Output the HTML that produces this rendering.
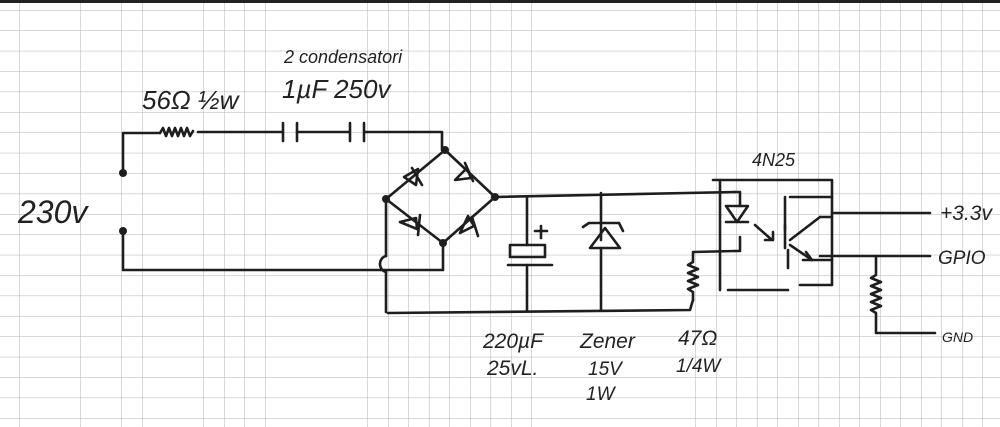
<!DOCTYPE html>
<html><head><meta charset="utf-8"><style>
html,body{margin:0;padding:0;background:#fff}
svg{display:block}
text{font-family:"Liberation Sans",sans-serif;font-style:italic;fill:#222}
</style></head><body>
<svg width="1000" height="427" viewBox="0 0 1000 427" xmlns="http://www.w3.org/2000/svg">
<defs>
<pattern id="g" x="19" y="10" width="20.5" height="20.4" patternUnits="userSpaceOnUse">
<path d="M0 0V20.4M0 0H20.5" stroke="#b0b0b0" stroke-width="1" fill="none"/>
</pattern>
</defs>
<rect width="1000" height="427" fill="#fff"/>
<rect width="1000" height="427" fill="url(#g)"/>
<rect x="0" y="0" width="1000" height="3" fill="#222"/>
<g stroke="#1e1e1e" stroke-width="2.6" fill="none" stroke-linecap="round" stroke-linejoin="round">
<path d="M123 173V133H160"/>
<path d="M160 133l3-5 3 8 3-8 3 8 3-8 3 8 3-8 3 8 3-8 3 8 3-5"/>
<path d="M198 132H283"/>
<path d="M283 123V141M297 123V141"/>
<path d="M297 132H350M350 123V141M364 123V141M364 132H442V150"/>
<path d="M123 231V270H443V243"/>
<path d="M386 199V256"/>
<path d="M386 256c-8 2-8 14 0 16"/>
<path d="M386 272V312"/>
<path d="M445 150L386 199L443 243L495 197Z"/>
<path d="M404 177l12 8 2-16z M412 168l10 17"/>
<path d="M455 180l16-2-4-10z M465 163l8 18"/>
<path d="M400 222l17 7-1-11z M420 215l-2 20"/>
<path d="M460 233l14-7-6-10z M472 217l6 19"/>
<path d="M388 313L690 310L693 300"/>
<path d="M495 197L735 192"/>
<path d="M527 197V245"/>
<path d="M510 245H545V257H510Z"/>
<path d="M508 265H552"/>
<path d="M527 265V310"/>
<path d="M541 226V238M535 231H547"/>
<path d="M601 193V240"/>
<path d="M590 248H620L605 228Z"/>
<path d="M583 227l6-4 30 0 4 8"/>
<path d="M601 248V310"/>
<path d="M693 300V292l-5-3 10-4-10-4 10-4-10-4 10-4-10-4 5-3V252L735 251"/>
<path d="M713 180H832V285H800"/>
<path d="M720 180V290"/>
<path d="M728 290H788"/>
<path d="M735 192H740V206M735 251H740V237"/>
<path d="M726 206H748L737 222Z M726 222H748"/>
<path d="M755 225L772 240M765 240h8v-8"/>
<path d="M785 248V225 M788 250V268"/>
<path d="M790 197H832 M785 197V230"/>
<path d="M790 240L820 217 M790 245L812 260M806 252l6 8-9 0"/>
<path d="M820 217H832 M812 260H832"/>
<path d="M832 213H930"/>
<path d="M820 256H930"/>
<path d="M876 256V275l-5 3 10 4-10 4 10 4-10 4 10 4-10 4 10 4-10 4 5 3V333H935"/>
</g>
<g fill="#1e1e1e">
<circle cx="123" cy="173" r="4"/><circle cx="123" cy="231" r="4"/>
<circle cx="445" cy="150" r="4"/><circle cx="386" cy="199" r="4"/>
<circle cx="495" cy="197" r="4"/><circle cx="443" cy="243" r="4"/>
</g>
<text x="18" y="223" font-size="32">230v</text>
<text x="142" y="109" font-size="26">56Ω ½w</text>
<text x="284" y="63" font-size="18">2 condensatori</text>
<text x="282" y="98" font-size="26">1µF 250v</text>
<text x="752" y="166" font-size="18">4N25</text>
<text x="940" y="220" font-size="21">+3.3v</text>
<text x="938" y="264" font-size="19">GPIO</text>
<text x="942" y="342" font-size="14">GND</text>
<text x="483" y="348" font-size="21">220µF</text>
<text x="487" y="375" font-size="21">25vL.</text>
<text x="580" y="348" font-size="21">Zener</text>
<text x="588" y="375" font-size="19">15V</text>
<text x="586" y="400" font-size="19">1W</text>
<text x="678" y="345" font-size="21">47Ω</text>
<text x="676" y="372" font-size="19">1/4W</text>
</svg>
</body></html>
